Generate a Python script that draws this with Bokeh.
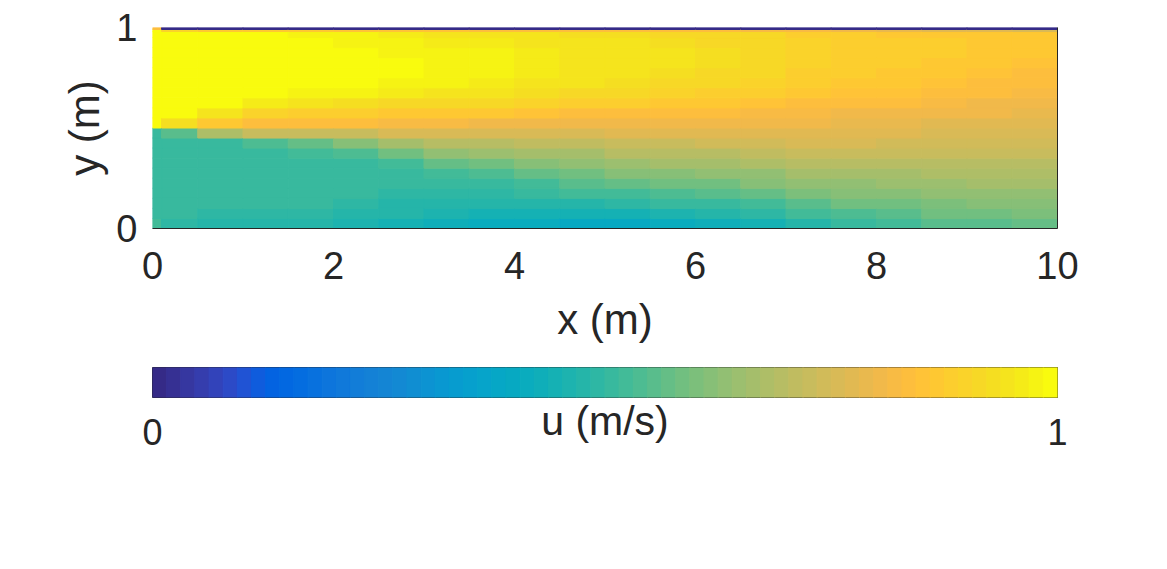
from bokeh.plotting import figure
from bokeh.models import Range1d, FixedTicker, LinearAxis, ColumnDataSource, LinearColorMapper
from bokeh.layouts import column
from bokeh.transform import transform
from bokeh.embed import file_html
from bokeh.resources import INLINE

# ---- grid (cell edges) ----
x_edges = [0, 0.1, 0.5, 1, 1.5, 2, 2.5, 3, 3.5, 4, 4.5, 5, 5.5, 6, 6.5, 7, 7.5, 8, 8.5, 9, 9.5, 10]
y_edges = [0, 0.05, 0.1, 0.15, 0.2, 0.25, 0.3, 0.35, 0.4, 0.45, 0.5, 0.55, 0.6, 0.65,
           0.7, 0.75, 0.8, 0.85, 0.9, 0.95, 0.98, 0.99, 1.0]

# ---- u (m/s) per x column, bottom -> top ----
u_c00 = [0.53, 0.5, 0.5, 0.5, 0.5, 0.5, 0.5, 0.5, 0.5, 0.5, 1, 1, 1, 1, 1, 1, 1, 1, 1, 1, 1, 0.83]
u_c01 = [0.49, 0.5, 0.5, 0.5, 0.5, 0.5, 0.5, 0.5, 0.5, 0.56, 0.93, 1, 1, 1, 1, 1, 1, 1, 1, 1, 0.9, 0]
u_c02 = [0.48, 0.49, 0.5, 0.5, 0.5, 0.5, 0.5, 0.5, 0.51, 0.68, 0.86, 0.95, 1, 1, 1, 1, 1, 1, 1, 1, 0.87, 0]
u_c03 = [0.48, 0.49, 0.5, 0.5, 0.5, 0.5, 0.5, 0.51, 0.54, 0.72, 0.84, 0.9, 0.96, 0.99, 1, 1, 1, 1, 1, 0.99, 0.86, 0]
u_c04 = [0.47, 0.49, 0.5, 0.5, 0.5, 0.5, 0.5, 0.52, 0.57, 0.72, 0.83, 0.89, 0.94, 0.98, 1, 1, 1, 1, 1, 0.98, 0.86, 0]
u_c05 = [0.46, 0.48, 0.49, 0.5, 0.5, 0.5, 0.51, 0.54, 0.61, 0.73, 0.83, 0.88, 0.93, 0.97, 0.99, 1, 1, 0.99, 0.98, 0.97, 0.85, 0]
u_c06 = [0.45, 0.47, 0.48, 0.49, 0.5, 0.51, 0.53, 0.58, 0.66, 0.75, 0.82, 0.87, 0.92, 0.96, 0.98, 0.99, 0.99, 0.98, 0.97, 0.96, 0.85, 0]
u_c07 = [0.43, 0.46, 0.48, 0.49, 0.5, 0.52, 0.57, 0.63, 0.69, 0.76, 0.82, 0.87, 0.92, 0.95, 0.97, 0.98, 0.98, 0.97, 0.96, 0.95, 0.85, 0]
u_c08 = [0.42, 0.45, 0.47, 0.49, 0.51, 0.54, 0.59, 0.65, 0.70, 0.76, 0.81, 0.86, 0.91, 0.94, 0.96, 0.97, 0.97, 0.97, 0.96, 0.95, 0.84, 0]
u_c09 = [0.41, 0.44, 0.47, 0.5, 0.53, 0.57, 0.61, 0.66, 0.71, 0.76, 0.81, 0.85, 0.90, 0.93, 0.95, 0.96, 0.96, 0.96, 0.95, 0.94, 0.84, 0]
u_c10 = [0.40, 0.44, 0.48, 0.52, 0.55, 0.59, 0.63, 0.67, 0.71, 0.75, 0.80, 0.84, 0.89, 0.92, 0.94, 0.95, 0.95, 0.95, 0.94, 0.93, 0.84, 0]
u_c11 = [0.40, 0.45, 0.49, 0.53, 0.57, 0.61, 0.65, 0.69, 0.73, 0.77, 0.80, 0.84, 0.88, 0.91, 0.93, 0.94, 0.94, 0.94, 0.94, 0.93, 0.84, 0]
u_c12 = [0.41, 0.46, 0.50, 0.54, 0.58, 0.62, 0.66, 0.70, 0.73, 0.77, 0.80, 0.83, 0.87, 0.90, 0.92, 0.93, 0.94, 0.94, 0.93, 0.92, 0.83, 0]
u_c13 = [0.43, 0.47, 0.51, 0.55, 0.59, 0.63, 0.67, 0.70, 0.74, 0.77, 0.80, 0.83, 0.86, 0.89, 0.91, 0.92, 0.93, 0.93, 0.92, 0.91, 0.83, 0]
u_c14 = [0.45, 0.49, 0.53, 0.57, 0.61, 0.64, 0.68, 0.71, 0.74, 0.77, 0.80, 0.82, 0.85, 0.88, 0.90, 0.91, 0.92, 0.92, 0.92, 0.91, 0.82, 0]
u_c15 = [0.48, 0.52, 0.56, 0.60, 0.63, 0.66, 0.69, 0.72, 0.75, 0.78, 0.80, 0.82, 0.84, 0.86, 0.88, 0.89, 0.90, 0.90, 0.90, 0.89, 0.82, 0]
u_c16 = [0.51, 0.54, 0.58, 0.61, 0.64, 0.67, 0.70, 0.72, 0.75, 0.77, 0.79, 0.81, 0.83, 0.85, 0.87, 0.88, 0.89, 0.89, 0.89, 0.88, 0.80, 0]
u_c17 = [0.53, 0.56, 0.59, 0.62, 0.65, 0.67, 0.70, 0.72, 0.74, 0.77, 0.79, 0.81, 0.83, 0.85, 0.86, 0.87, 0.88, 0.88, 0.88, 0.87, 0.79, 0]
u_c18 = [0.55, 0.58, 0.60, 0.63, 0.65, 0.68, 0.70, 0.72, 0.74, 0.76, 0.78, 0.80, 0.82, 0.84, 0.85, 0.86, 0.87, 0.88, 0.88, 0.87, 0.78, 0]
u_c19 = [0.56, 0.59, 0.61, 0.63, 0.66, 0.68, 0.70, 0.72, 0.74, 0.76, 0.78, 0.80, 0.81, 0.83, 0.84, 0.85, 0.86, 0.87, 0.87, 0.86, 0.77, 0]
u_c20 = [0.57, 0.60, 0.62, 0.64, 0.66, 0.68, 0.70, 0.72, 0.74, 0.76, 0.78, 0.79, 0.81, 0.82, 0.83, 0.84, 0.85, 0.86, 0.87, 0.86, 0.75, 0]
u_columns = [u_c00, u_c01, u_c02, u_c03, u_c04, u_c05, u_c06, u_c07, u_c08, u_c09, u_c10,
             u_c11, u_c12, u_c13, u_c14, u_c15, u_c16, u_c17, u_c18, u_c19, u_c20]

x_ticks = [0, 2, 4, 6, 8, 10]
y_ticks = [0, 1]
cb_ticks = [0, 1]

parula = ["#352A87", "#363093", "#3637A0", "#353DAD", "#3243BA", "#2C4AC7", "#2053D4", "#0F5CDD",
          "#0363E1", "#0268E1", "#046DE0", "#0871DE", "#0D75DC", "#1079DA", "#127DD8", "#1481D6",
          "#1485D4", "#1389D3", "#108ED2", "#0C93D2", "#0998D1", "#079CCF", "#06A0CD", "#06A4CA",
          "#06A7C6", "#07A9C2", "#0AACBE", "#0FAEB9", "#15B1B4", "#1DB3AF", "#25B5A9", "#2EB7A4",
          "#38B99E", "#42BB98", "#4DBC92", "#59BD8C", "#65BE86", "#71BF80", "#7CBF7B", "#87BF77",
          "#92BF73", "#9CBF6F", "#A5BE6B", "#AEBE67", "#B7BD64", "#C0BC60", "#C8BC5D", "#D1BB59",
          "#D9BA56", "#E1B952", "#E9B94E", "#F1B94A", "#F8BB44", "#FDBE3D", "#FFC337", "#FEC832",
          "#FCCE2E", "#FAD32A", "#F7D826", "#F5DE21", "#F5E41D", "#F5EB18", "#F6F313", "#F9FB0E"]

FONT = "Liberation Sans"
TXT = "#262626"

mapper = LinearColorMapper(palette=parula, low=0, high=1)

left, right, bottom, top, u = [], [], [], [], []
for i, col in enumerate(u_columns):
    for j, val in enumerate(col):
        left.append(x_edges[i]); right.append(x_edges[i + 1])
        bottom.append(y_edges[j]); top.append(y_edges[j + 1])
        u.append(val)
src = ColumnDataSource(dict(left=left, right=right, bottom=bottom, top=top, u=u))

p = figure(width=1167, height=360, x_range=Range1d(0, 10), y_range=Range1d(0, 1),
           output_backend="svg", toolbar_location=None,
           min_border_left=152, min_border_right=110, min_border_top=27, min_border_bottom=132)
p.quad(left="left", right="right", bottom="bottom", top="top", source=src,
       fill_color=transform("u", mapper), line_color=transform("u", mapper), line_width=1)
p.grid.visible = False
p.outline_line_color = None
p.background_fill_color = "white"
p.border_fill_color = "white"

for ax in (p.xaxis[0], p.yaxis[0]):
    ax.major_label_text_font = FONT
    ax.major_label_text_font_size = "38px"
    ax.major_label_text_color = TXT
    ax.axis_label_text_font = FONT
    ax.axis_label_text_font_size = "42px"
    ax.axis_label_text_font_style = "normal"
    ax.axis_label_text_color = TXT
    ax.major_tick_in = 0
    ax.major_tick_out = 0
    ax.minor_tick_in = 0
    ax.minor_tick_out = 0

p.xaxis.ticker = FixedTicker(ticks=x_ticks)
p.xaxis.axis_label = "x (m)"
p.xaxis.axis_line_color = TXT
p.xaxis.major_label_standoff = 23
p.xaxis.axis_label_standoff = 14

p.yaxis.ticker = FixedTicker(ticks=y_ticks)
p.yaxis.axis_label = "y (m)"
p.yaxis.axis_line_color = None
p.yaxis.major_label_standoff = 15
p.yaxis.axis_label_standoff = 5

rax = LinearAxis(ticker=FixedTicker(ticks=[]), axis_line_color=TXT,
                 major_tick_in=0, major_tick_out=0, minor_tick_in=0, minor_tick_out=0,
                 major_label_text_font_size="0px")
p.add_layout(rax, "right")

# ---- colorbar ----
n = len(parula)
cb_src = ColumnDataSource(dict(left=[k / n for k in range(n)], right=[(k + 1) / n for k in range(n)],
                               v=[(k + 0.5) / n for k in range(n)]))
p2 = figure(width=1167, height=209, x_range=Range1d(0, 1), y_range=Range1d(0, 1),
            output_backend="svg", toolbar_location=None,
            min_border_left=152, min_border_right=110, min_border_top=7, min_border_bottom=172)
p2.quad(left="left", right="right", bottom=0, top=1, source=cb_src,
        fill_color=transform("v", mapper), line_color=transform("v", mapper), line_width=1)
p2.grid.visible = False
p2.yaxis.visible = False
p2.outline_line_color = TXT
p2.outline_line_width = 1
p2.background_fill_color = "white"
p2.border_fill_color = "white"
p2.xaxis.ticker = FixedTicker(ticks=cb_ticks)
p2.xaxis.axis_line_color = None
p2.xaxis.major_tick_in = 0
p2.xaxis.major_tick_out = 0
p2.xaxis.minor_tick_in = 0
p2.xaxis.minor_tick_out = 0
p2.xaxis.major_label_text_font = FONT
p2.xaxis.major_label_text_font_size = "36px"
p2.xaxis.major_label_text_color = TXT
p2.xaxis.major_label_standoff = 21
p2.xaxis.axis_label = "u (m/s)"
p2.xaxis.axis_label_text_font = FONT
p2.xaxis.axis_label_text_font_size = "41px"
p2.xaxis.axis_label_text_font_style = "normal"
p2.xaxis.axis_label_text_color = TXT
p2.xaxis.axis_label_standoff = -50

layout = column(p, p2, spacing=0)
open("out.html", "w").write(file_html(layout, INLINE))
